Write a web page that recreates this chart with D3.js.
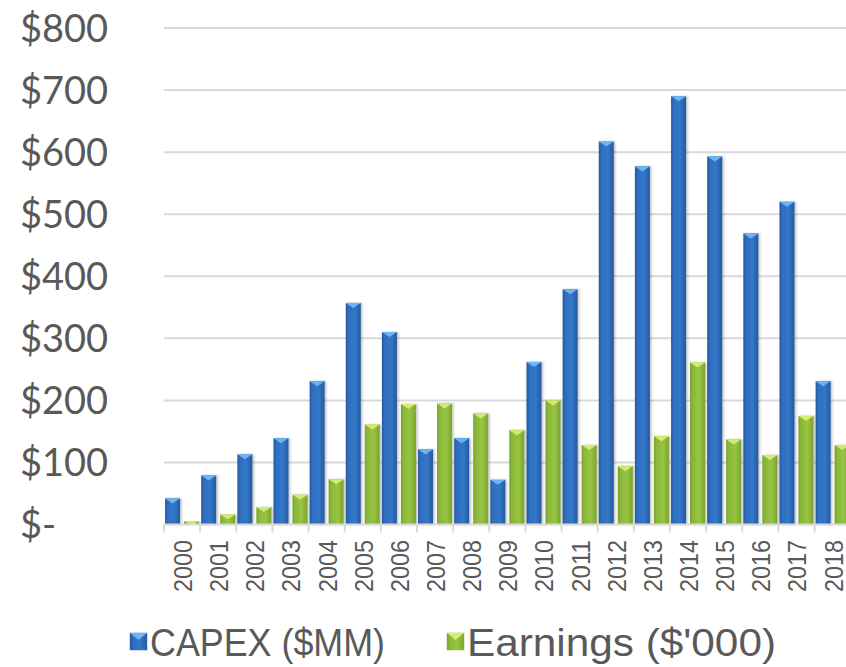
<!DOCTYPE html>
<html>
<head>
<meta charset="utf-8">
<script src="https://cdn.jsdelivr.net/npm/d3@7"></script>
<style>
  html, body { margin: 0; padding: 0; background: #fff; }
  svg { display: block; }
</style>
</head>
<body>
<div id="chart"></div>
<script>
// Chart data
const years = ["2000", "2001", "2002", "2003", "2004", "2005", "2006", "2007", "2008", "2009",
               "2010", "2011", "2012", "2013", "2014", "2015", "2016", "2017", "2018"];
const capex = [42, 79, 113, 139, 231, 357, 310, 121, 139, 72, 262, 379, 617, 577, 690, 593, 469, 520, 231];
const earnings = [5, 16, 28, 48, 73, 161, 194, 195, 179, 152, 200, 128, 94, 142, 261, 137, 112, 175, 128];
const yTicks = [0, 100, 200, 300, 400, 500, 600, 700, 800];
const seriesNames = ["CAPEX ($MM)", "Earnings ($'000)"];

const width = 846;
const height = 667;
const margin = { top: 28, left: 164, bottom: 142.5 };
const plotRight = 850.7; // the last bar runs past the window edge

const svg = d3.select('#chart')
    .append('svg')
    .attr('width', width)
    .attr('height', height);

const defs = svg.append('defs');

// Horizontal shading for the bars
function addGradient(id, stops) {
    const grad = defs.append('linearGradient')
        .attr('id', id)
        .attr('x1', '0%').attr('x2', '100%')
        .attr('y1', '0%').attr('y2', '0%');
    stops.forEach(s => grad.append('stop').attr('offset', s[0]).attr('stop-color', s[1]));
}
addGradient('blueGrad', [['0%', '#24589f'], ['18%', '#2f6ebf'], ['60%', '#3477c9'], ['100%', '#245a9f']]);
addGradient('greenGrad', [['0%', '#76a12a'], ['18%', '#8cb83a'], ['60%', '#98c444'], ['100%', '#7aa42d']]);

const shadow = defs.append('filter').attr('id', 'shadow')
    .attr('x', '-20%').attr('y', '-5%').attr('width', '160%').attr('height', '115%');
shadow.append('feDropShadow')
    .attr('dx', 1.5).attr('dy', 0)
    .attr('stdDeviation', 1.2)
    .attr('flood-color', '#000')
    .attr('flood-opacity', 0.25);

const colors = {
    capex: { fill: 'url(#blueGrad)', cap: '#6db4f2', base: '#2f6ebf' },
    earnings: { fill: 'url(#greenGrad)', cap: '#d6ea6e', base: '#8cb83a' }
};

// Scales
const x0 = d3.scaleBand()
    .domain(years)
    .range([margin.left, plotRight])
    .padding(0);

const x1 = d3.scaleBand()
    .domain(['capex', 'earnings'])
    .range([0, x0.bandwidth()])
    .paddingInner(0.21)
    .paddingOuter(0.056);

const y = d3.scaleLinear()
    .domain([0, 800])
    .range([height - margin.bottom, margin.top]);

// Gridlines
svg.append('g')
    .selectAll('line')
    .data(yTicks.slice(1))
    .enter()
    .append('line')
    .attr('x1', margin.left)
    .attr('x2', width)
    .attr('y1', d => y(d))
    .attr('y2', d => y(d))
    .style('stroke', '#d9d9d9')
    .style('stroke-width', 2);

// Y labels, accounting style
svg.append('g')
    .selectAll('text')
    .data(yTicks)
    .enter()
    .append('text')
    .attr('x', 20)
    .attr('y', d => y(d))
    .attr('dy', '0.36em')
    .style('font-family', 'Lato, "DejaVu Sans", sans-serif')
    .style('font-size', '38px')
    .style('fill', '#595959')
    .text(d => d === 0 ? '$-' : '$' + d);

// Bars
const rows = years.map((yr, i) => ({ year: yr, capex: capex[i], earnings: earnings[i] }));

const groups = svg.append('g')
    .selectAll('g')
    .data(rows)
    .enter()
    .append('g')
    .attr('transform', d => `translate(${x0(d.year)},0)`);

const bars = groups.selectAll('g')
    .data(d => ['capex', 'earnings'].map(k => ({ key: k, value: d[k] })))
    .enter()
    .append('g');

bars.append('rect')
    .attr('x', d => x1(d.key))
    .attr('y', d => y(d.value))
    .attr('width', x1.bandwidth())
    .attr('height', d => y(0) - y(d.value))
    .attr('filter', 'url(#shadow)')
    .style('fill', d => colors[d.key].fill);

// Bevel cap on top of each bar
bars.append('path')
    .attr('d', d => {
        const bx = x1(d.key);
        const bw = x1.bandwidth();
        const by = y(d.value);
        const h = Math.min(5, y(0) - by);
        return `M${bx},${by}L${bx + bw},${by}L${bx + bw / 2},${by + h}Z`;
    })
    .style('fill', d => colors[d.key].cap);

// Axis line and ticks
svg.append('line')
    .attr('x1', margin.left)
    .attr('x2', width)
    .attr('y1', y(0))
    .attr('y2', y(0))
    .style('stroke', '#d9d9d9')
    .style('stroke-width', 2);

svg.append('g')
    .selectAll('line')
    .data(years.concat(['end']))
    .enter()
    .append('line')
    .attr('x1', (d, i) => margin.left + i * x0.step())
    .attr('x2', (d, i) => margin.left + i * x0.step())
    .attr('y1', y(0))
    .attr('y2', y(0) + 8)
    .style('stroke', '#d9d9d9')
    .style('stroke-width', 2);

// Year labels, rotated
svg.append('g')
    .selectAll('text')
    .data(years)
    .enter()
    .append('text')
    .attr('transform', d => `translate(${x0(d) + x0.bandwidth() / 2 + 1},540) rotate(-90)`)
    .attr('text-anchor', 'end')
    .attr('dy', '0.36em')
    .attr('textLength', 52)
    .attr('lengthAdjust', 'spacingAndGlyphs')
    .style('font-family', '"Liberation Sans", Arial, sans-serif')
    .style('font-size', '25px')
    .style('fill', '#595959')
    .text(d => d);

// Legend
const legendItems = [
    { name: seriesNames[0], key: 'capex', mx: 130, tx: 150, tw: 235 },
    { name: seriesNames[1], key: 'earnings', mx: 447, tx: 467, tw: 309 }
];

const legend = svg.append('g');

legend.selectAll('rect')
    .data(legendItems)
    .enter()
    .append('rect')
    .attr('x', d => d.mx)
    .attr('y', 633)
    .attr('width', 17)
    .attr('height', 17)
    .style('fill', d => colors[d.key].fill)
    .style('stroke', d => colors[d.key].base)
    .style('stroke-width', 0.5);

legend.selectAll('path')
    .data(legendItems)
    .enter()
    .append('path')
    .attr('d', d => `M${d.mx},633L${d.mx + 17},633L${d.mx + 8.5},640Z`)
    .style('fill', d => colors[d.key].cap);

legend.selectAll('text')
    .data(legendItems)
    .enter()
    .append('text')
    .attr('x', d => d.tx)
    .attr('y', 656)
    .attr('textLength', d => d.tw)
    .attr('lengthAdjust', 'spacingAndGlyphs')
    .style('font-family', '"Liberation Sans", Arial, sans-serif')
    .style('font-size', '38px')
    .style('fill', '#595959')
    .text(d => d.name);
</script>
</body>
</html>
